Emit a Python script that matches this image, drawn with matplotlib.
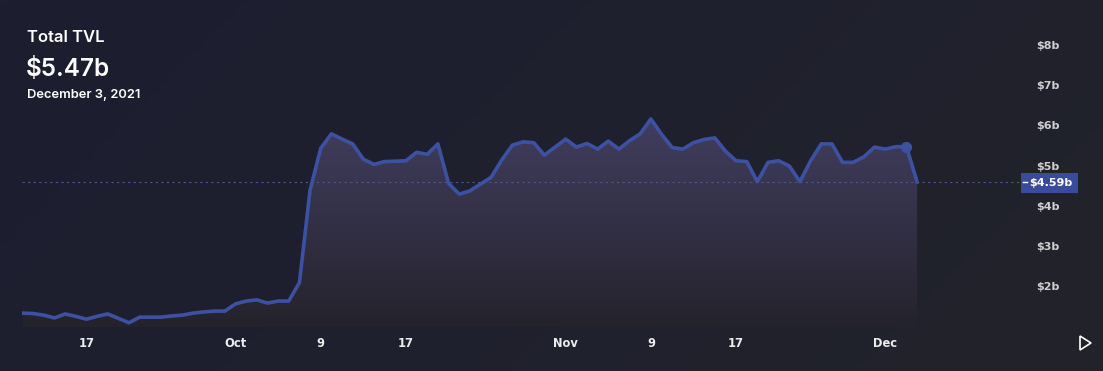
import numpy as np
import pandas as pd
import matplotlib
matplotlib.use("Agg")
import matplotlib.pyplot as plt
import matplotlib.dates as mdates
from matplotlib.patches import Polygon, Rectangle

# daily Total TVL in $b, Sep 11 - Dec 4 2021
tvl = [1.33, 1.32, 1.28, 1.21, 1.31, 1.25, 1.18, 1.25, 1.31, 1.20,
       1.09, 1.23, 1.23, 1.23, 1.26, 1.28, 1.33, 1.36, 1.38, 1.38,
       1.56, 1.63, 1.66, 1.58, 1.63, 1.63, 2.09, 4.39, 5.43, 5.79,
       5.66, 5.54, 5.16, 5.03, 5.10, 5.11, 5.12, 5.33, 5.28, 5.54,
       4.56, 4.29, 4.37, 4.54, 4.71, 5.14, 5.51, 5.59, 5.57, 5.26,
       5.46, 5.66, 5.46, 5.55, 5.41, 5.61, 5.41, 5.62, 5.79, 6.16,
       5.78, 5.45, 5.41, 5.57, 5.65, 5.69, 5.36, 5.12, 5.10, 4.60,
       5.08, 5.12, 4.99, 4.60, 5.12, 5.54, 5.54, 5.08, 5.08, 5.22,
       5.46, 5.41, 5.47, 5.47, 4.59]
start_date = "2021-09-11"
hover_date = "2021-12-03"
hover_value = 5.47
last_value = 4.59

xtick_dates = ["2021-09-17", "2021-10-01", "2021-10-09", "2021-10-17",
               "2021-11-01", "2021-11-09", "2021-11-17", "2021-12-01"]
xtick_labels = ["17", "Oct", "9", "17", "Nov", "9", "17", "Dec"]
ytick_vals = [2, 3, 4, 5, 6, 7, 8]
ytick_labels = ["$2b", "$3b", "$4b", "$5b", "$6b", "$7b", "$8b"]

dates = pd.date_range(start_date, periods=len(tvl), freq="D")
x = mdates.date2num(dates)
y = np.array(tvl)

line_col = "#3d51a3"
W, H = 1103, 371
fig = plt.figure(figsize=(W / 100, H / 100), dpi=100)

# background gradient
bg = fig.add_axes([0, 0, 1, 1], zorder=0)
gx = np.linspace(0, 1, 200)
gy = np.linspace(0, 1, 100)
GX, GY = np.meshgrid(gx, gy)
t = np.clip(0.75 * GX + 0.25 * GY, 0, 1)
c0 = np.array([0x1c, 0x1e, 0x31]) / 255
c1 = np.array([0x22, 0x23, 0x2a]) / 255
img = c0[None, None, :] * (1 - t[..., None]) + c1[None, None, :] * t[..., None]
bg.imshow(img, aspect="auto", extent=[0, 1, 0, 1], origin="upper")
bg.set_xlim(0, 1)
bg.set_ylim(0, 1)
bg.axis("off")

ax = fig.add_axes([22 / W, 44 / H, (1020 - 22) / W, (327 - 20) / H], zorder=1)
ax.patch.set_alpha(0)
x0 = x[0] - 0.05
x1 = x[0] + 93.66
ymin, ymax = 0.985, 8.622
ax.set_xlim(x0, x1)
ax.set_ylim(ymin, ymax)

# gradient fill under the line
poly = np.vstack([[x[0], ymin], np.column_stack([x, y]), [x[-1], ymin]])
fill = Polygon(poly, closed=True, facecolor="none", edgecolor="none")
ax.add_patch(fill)
fy = np.linspace(1, 0, 100)[:, None]
top = np.array([0x42, 0x3e, 0x60]) / 255
bot = np.array([0x24, 0x23, 0x2c]) / 255
fimg = bot[None, None, :] * (1 - fy[..., None]) + top[None, None, :] * fy[..., None]
fimg = np.repeat(fimg, 2, axis=1)
im = ax.imshow(fimg, aspect="auto", extent=[x[0], x[-1], ymin, 6.3],
               origin="upper", zorder=1)
im.set_clip_path(fill)

ax.plot(x, y, color=line_col, lw=2.6, solid_joinstyle="round", zorder=3)
ax.plot(mdates.date2num(pd.Timestamp(hover_date)), hover_value, "o",
        color=line_col, ms=7, zorder=4)
ax.axhline(last_value, color="#4656a6", lw=0.8, ls=(0, (2, 3)), zorder=2)

for s in ax.spines.values():
    s.set_visible(False)
ax.set_xticks(mdates.date2num(pd.to_datetime(xtick_dates)))
ax.set_xticklabels(xtick_labels)
ax.tick_params(axis="x", length=0, pad=7, colors="#ececec", labelsize=8.3)
ax.yaxis.tick_right()
ax.set_yticks(ytick_vals)
ax.set_yticklabels(ytick_labels)
ax.tick_params(axis="y", length=0, pad=12, colors="#cfcfcf", labelsize=8)
for lab in ax.get_xticklabels() + ax.get_yticklabels():
    lab.set_fontweight("bold")
    lab.set_family("DejaVu Sans")

# last value badge
fig.add_artist(Rectangle((1021 / W, 1 - 193 / H), 57 / W, 20 / H,
                         transform=fig.transFigure, facecolor="#3b4b9c",
                         edgecolor="none", zorder=5))
fig.text(1029 / W, 1 - 183 / H, "$" + f"{last_value:.2f}b", color="white",
         fontsize=8, fontweight="bold", va="center", ha="left", zorder=6)
fig.add_artist(plt.Line2D([1023 / W, 1027 / W], [1 - 182 / H, 1 - 182 / H],
                          transform=fig.transFigure, color="white", lw=1, zorder=6))

# header texts
fig.text(27 / W, 1 - 38 / H, "Total TVL", color="white", fontsize=12,
         family="Inter", fontweight="semibold", va="center")
fig.text(26 / W, 1 - 69 / H, "$" + f"{hover_value:.2f}b", color="white",
         fontsize=17.5, family="Inter", fontweight="semibold", va="center")
fig.text(27 / W, 1 - 95 / H, "December 3, 2021", color="white", fontsize=9.3,
         family="Inter", fontweight="semibold", va="center")

# play icon
fig.add_artist(Polygon([[1080 / W, 1 - 336 / H], [1080 / W, 1 - 350 / H],
                        [1091 / W, 1 - 343 / H]], closed=True,
                       transform=fig.transFigure, facecolor="none",
                       edgecolor="white", lw=1.2, zorder=6))

fig.savefig("out.png", dpi=100)
